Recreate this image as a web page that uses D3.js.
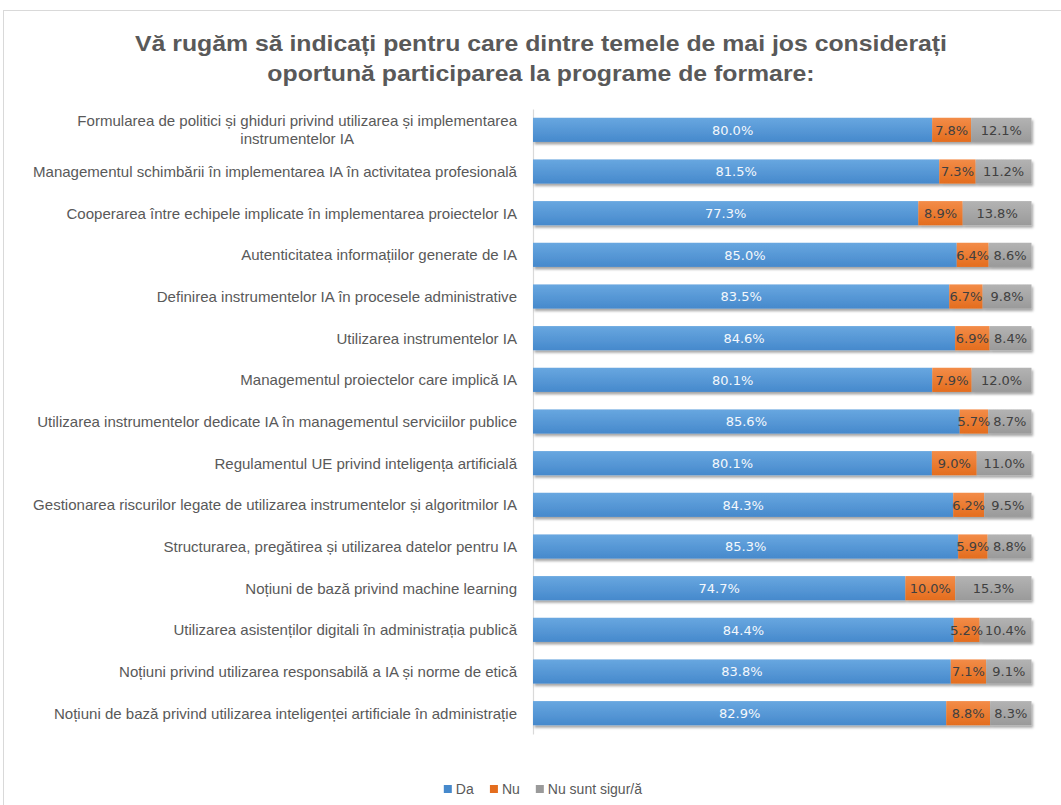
<!DOCTYPE html>
<html><head><meta charset="utf-8">
<script src="https://cdn.jsdelivr.net/npm/d3@7"></script>
<style>body{margin:0;background:#fff;} svg{display:block;}</style>
</head><body><svg id="c" width="1061" height="805"></svg>
<script>
const titleLines = [
  "Vă rugăm să indicați pentru care dintre temele de mai jos considerați",
  "oportună participarea la programe de formare:"
];
const categories = [
  "Formularea de politici și ghiduri privind utilizarea și implementarea instrumentelor IA",
  "Managementul schimbării în implementarea IA în activitatea profesională",
  "Cooperarea între echipele implicate în implementarea proiectelor IA",
  "Autenticitatea informațiilor generate de IA",
  "Definirea instrumentelor IA în procesele administrative",
  "Utilizarea instrumentelor IA",
  "Managementul proiectelor care implică IA",
  "Utilizarea instrumentelor dedicate IA în managementul serviciilor publice",
  "Regulamentul UE privind inteligența artificială",
  "Gestionarea riscurilor legate de utilizarea instrumentelor și algoritmilor IA",
  "Structurarea, pregătirea și utilizarea datelor pentru IA",
  "Noțiuni de bază privind machine learning",
  "Utilizarea asistenților digitali în administrația publică",
  "Noțiuni privind utilizarea responsabilă a IA și norme de etică",
  "Noțiuni de bază privind utilizarea inteligenței artificiale în administrație"
];
const da      = [80.0, 81.5, 77.3, 85.0, 83.5, 84.6, 80.1, 85.6, 80.1, 84.3, 85.3, 74.7, 84.4, 83.8, 82.9];
const nu      = [ 7.8,  7.3,  8.9,  6.4,  6.7,  6.9,  7.9,  5.7,  9.0,  6.2,  5.9, 10.0,  5.2,  7.1,  8.8];
const nesigur = [12.1, 11.2, 13.8,  8.6,  9.8,  8.4, 12.0,  8.7, 11.0,  9.5,  8.8, 15.3, 10.4,  9.1,  8.3];
const seriesKeys  = ["da", "nu", "ns"];
const seriesNames = ["Da", "Nu", "Nu sunt sigur/ă"];

const colors = {
  da: ["#68a7e0", "#4689cc"],
  nu: ["#f38c48", "#e46d1e"],
  ns: ["#b3b3b3", "#9a9a9a"]
};
const labelColor = { da: "#f4f8fc", nu: "#404040", ns: "#404040" };

const svg = d3.select("#c");
const defs = svg.append("defs");
seriesKeys.forEach(k => {
  const g = defs.append("linearGradient").attr("id", "g_" + k)
    .attr("x1", 0).attr("y1", 0).attr("x2", 0).attr("y2", 1);
  g.append("stop").attr("offset", "0%").attr("stop-color", colors[k][0]);
  g.append("stop").attr("offset", "100%").attr("stop-color", colors[k][1]);
});
defs.append("filter").attr("id", "sh").attr("x", "-5%").attr("y", "-30%").attr("width", "110%").attr("height", "180%")
  .append("feDropShadow").attr("dx", 1.5).attr("dy", 2.5).attr("stdDeviation", 1.3)
  .attr("flood-color", "#000").attr("flood-opacity", 0.35);

// frame
svg.append("rect").attr("x", 3.5).attr("y", 10.5).attr("width", 1080).attr("height", 820)
  .attr("fill", "#fff").attr("stroke", "#d9d9d9").attr("stroke-width", 1);

// title
const title = svg.append("g");
const tl = title.selectAll("text").data(titleLines).join("text")
  .attr("x", 541).attr("y", (d, i) => 51 + i * 30)
  .attr("text-anchor", "middle")
  .style("font-family", "'Liberation Sans', Arial, sans-serif")
  .style("font-weight", "bold").style("font-size", "22px")
  .attr("fill", "#595959").text(d => d);
{
  const w0 = tl.nodes()[0].getComputedTextLength();
  const k = 812 / w0;
  tl.each(function () {
    const w = this.getComputedTextLength();
    d3.select(this).attr("textLength", w * k).attr("lengthAdjust", "spacingAndGlyphs");
  });
}

// data
const rows = categories.map((c, i) => ({ cat: c, da: da[i], nu: nu[i], ns: nesigur[i] }));
const stack = d3.stack().keys(seriesKeys).offset(d3.stackOffsetExpand);
const stacked = stack(rows);

const x = d3.scaleLinear().domain([0, 1]).range([533, 1031.5]);
const y = d3.scaleBand().domain(categories).range([109, 734]).paddingInner(0.42).paddingOuter(0.21);

// axis
const pad = 16;
const ax = svg.append("g").attr("transform", `translate(${x(0)},0)`)
  .call(d3.axisLeft(y).tickSize(0).tickPadding(pad));
ax.select(".domain").attr("stroke", "#d9d9d9").attr("stroke-width", 1.2);
ax.selectAll(".tick text")
  .style("font-family", "'Liberation Sans', Arial, sans-serif")
  .style("font-size", "15px").attr("fill", "#595959");

// wrap long labels
const maxW = 510;
ax.selectAll(".tick text").each(function (d) {
  const t = d3.select(this);
  const words = d.split(" ");
  t.text(null);
  const lines = [];
  let cur = [];
  const probe = t.append("tspan");
  words.forEach(wd => {
    cur.push(wd);
    probe.text(cur.join(" "));
    if (probe.node().getComputedTextLength() > maxW && cur.length > 1) {
      cur.pop();
      lines.push(cur.join(" "));
      cur = [wd];
    }
  });
  lines.push(cur.join(" "));
  probe.remove();
  const lh = 18;
  const off = -(lines.length - 1) * lh / 2;
  t.attr("dy", null);
  lines.forEach((ln, i) => {
    t.append("tspan").attr("x", -pad).attr("y", off + i * lh).attr("dy", "0.36em").text(ln);
  });
});
{
  let wmax = 0;
  ax.selectAll(".tick text tspan").each(function () { wmax = Math.max(wmax, this.getComputedTextLength()); });
  const k = 484 / wmax;
  ax.selectAll(".tick text").each(function () {
    const spans = d3.select(this).selectAll("tspan");
    const ws = [];
    spans.each(function () { ws.push(this.getComputedTextLength() * k); });
    spans.attr("textLength", (d, i) => ws[i]).attr("lengthAdjust", "spacingAndGlyphs");
    if (ws.length > 1) {
      const bw = d3.max(ws);
      d3.select(this).attr("text-anchor", "middle");
      spans.attr("x", -pad - bw / 2);
    }
  });
}

// bars
const rowG = svg.append("g").selectAll("g.row").data(rows).join("g")
  .attr("class", "row").attr("filter", "url(#sh)");
stacked.forEach(s => {
  rowG.append("rect")
    .attr("x", (d, i) => x(s[i][0]))
    .attr("y", d => y(d.cat))
    .attr("width", (d, i) => x(s[i][1]) - x(s[i][0]))
    .attr("height", y.bandwidth())
    .attr("fill", `url(#g_${s.key})`);
});

// data labels
const lbl = svg.append("g")
  .style("font-family", "'DejaVu Sans', Verdana, sans-serif").style("font-size", "13px");
stacked.forEach(s => {
  lbl.selectAll(null).data(s).join("text")
    .attr("x", d => (x(d[0]) + x(d[1])) / 2)
    .attr("y", d => y(d.data.cat) + y.bandwidth() / 2)
    .attr("dy", "0.36em")
    .attr("text-anchor", "middle")
    .attr("fill", labelColor[s.key])
    .text(d => d.data[s.key].toFixed(1) + "%");
});

// legend
const leg = svg.append("g");
const legItems = leg.selectAll("g").data(seriesKeys).join("g");
legItems.append("rect").attr("width", 8).attr("height", 8).attr("y", -4)
  .attr("fill", k => colors[k][1]);
legItems.append("text").attr("x", 12).attr("dy", "0.35em")
  .style("font-family", "'Liberation Sans', Arial, sans-serif").style("font-size", "14px")
  .attr("fill", "#595959").text((k, i) => seriesNames[i]);
{
  let xpos = 0;
  const gap = 16;
  const widths = [];
  legItems.each(function () { widths.push(this.getBBox().width); });
  const total = d3.sum(widths) + gap * (widths.length - 1);
  let start = 543 - total / 2;
  legItems.attr("transform", (k, i) => {
    const tx = start + xpos;
    xpos += widths[i] + gap;
    return `translate(${tx},789)`;
  });
}
</script>
</body></html>
